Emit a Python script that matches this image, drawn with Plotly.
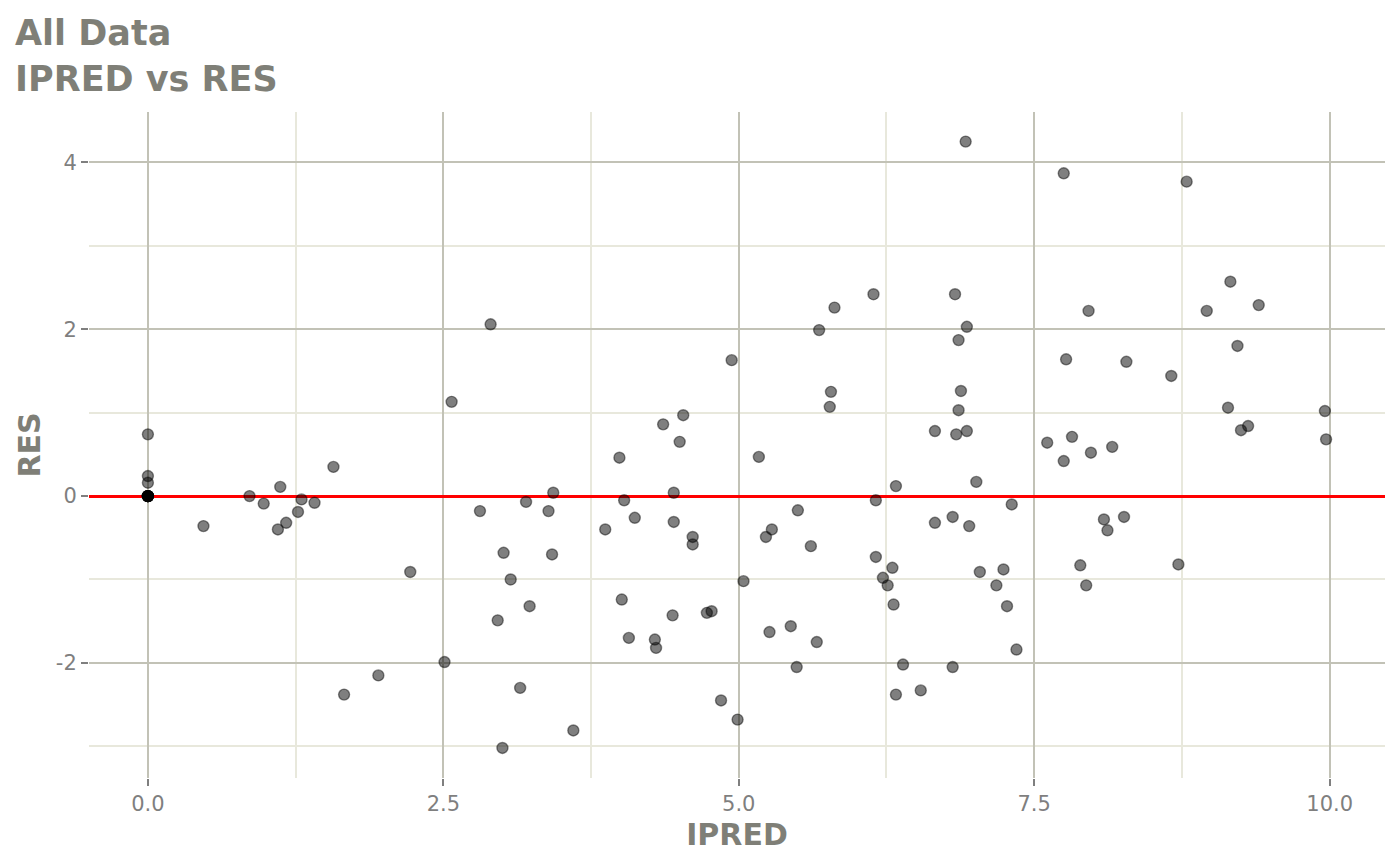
import plotly.graph_objects as go

# IPRED / RES values
ipred = [
    0, 0, 0, 0, 0, 0, 0, 0, 0, 0, 0,
    0.47, 0.86, 0.98, 1.12, 1.10, 1.17, 1.27, 1.30, 1.41, 1.57,
    1.66, 1.95, 2.22, 2.51, 2.57, 2.81, 2.90, 3.00, 3.01, 2.96,
    3.07, 3.15, 3.20, 3.23, 3.39, 3.43, 3.42, 3.60, 3.87, 3.99,
    4.03, 4.01, 4.07, 4.12, 4.29, 4.30, 4.36, 4.44, 4.45, 4.45,
    4.50, 4.53, 4.61, 4.61, 4.73, 4.77, 4.85, 4.94, 4.99, 5.04,
    5.17, 5.23, 5.26, 5.28, 5.44, 5.49, 5.50, 5.61, 5.66, 5.68,
    5.77, 5.78, 5.81, 6.14, 6.16, 6.16, 6.22, 6.26, 6.30, 6.31,
    6.33, 6.33, 6.39, 6.54, 6.66, 6.66, 6.81, 6.81, 6.83, 6.84,
    6.86, 6.86, 6.88, 6.92, 6.93, 6.93, 6.95, 7.01, 7.04, 7.18,
    7.24, 7.27, 7.31, 7.35, 7.61, 7.75, 7.75, 7.77, 7.82, 7.89,
    7.94, 7.96, 7.98, 8.09, 8.12, 8.16, 8.26, 8.28, 8.66, 8.72,
    8.79, 8.96, 9.14, 9.16, 9.22, 9.25, 9.31, 9.40, 9.96, 9.97,
]
res = [
    0.74, 0.24, 0.16, 0, 0, 0, 0, 0, 0, 0, 0,
    -0.36, 0.0, -0.09, 0.11, -0.40, -0.32, -0.19, -0.04, -0.08, 0.35,
    -2.38, -2.15, -0.91, -1.99, 1.13, -0.18, 2.06, -3.02, -0.68, -1.49,
    -1.00, -2.30, -0.07, -1.32, -0.18, 0.04, -0.70, -2.81, -0.40, 0.46,
    -0.05, -1.24, -1.70, -0.26, -1.72, -1.82, 0.86, -1.43, -0.31, 0.04,
    0.65, 0.97, -0.49, -0.58, -1.40, -1.38, -2.45, 1.63, -2.68, -1.02,
    0.47, -0.49, -1.63, -0.40, -1.56, -2.05, -0.17, -0.60, -1.75, 1.99,
    1.07, 1.25, 2.26, 2.42, -0.05, -0.73, -0.98, -1.07, -0.86, -1.30,
    0.12, -2.38, -2.02, -2.33, 0.78, -0.32, -0.25, -2.05, 2.42, 0.74,
    1.03, 1.87, 1.26, 4.25, 2.03, 0.78, -0.36, 0.17, -0.91, -1.07,
    -0.88, -1.32, -0.10, -1.84, 0.64, 3.87, 0.42, 1.64, 0.71, -0.83,
    -1.07, 2.22, 0.52, -0.28, -0.41, 0.59, -0.25, 1.61, 1.44, -0.82,
    3.77, 2.22, 1.06, 2.57, 1.80, 0.79, 0.84, 2.29, 1.02, 0.68,
]

x_ticks = [0, 2.5, 5, 7.5, 10]
x_tick_labels = ["0.0", "2.5", "5.0", "7.5", "10.0"]
y_ticks = [-2, 0, 2, 4]
y_tick_labels = ["-2", "0", "2", "4"]

text_grey = "#7f7f77"
major_grid = "#c2c2b6"
minor_grid = "#e8e8dc"

fig = go.Figure()

fig.add_trace(go.Scatter(
    x=ipred,
    y=res,
    mode="markers",
    marker=dict(size=11, color="rgba(0,0,0,0.5)",
                line=dict(color="rgba(0,0,0,0.45)", width=1.4)),
    showlegend=False,
    hoverinfo="x+y",
))

axis_common = dict(
    showline=False,
    automargin=False,
    gridcolor=major_grid,
    gridwidth=2,
    ticks="outside",
    ticklen=7,
    tickwidth=2,
    tickcolor="#7f7f7f",
    tickfont=dict(family="DejaVu Sans", size=21, color="#7f7f7f"),
)

fig.update_xaxes(
    range=[-0.4985, 10.4685],
    tickvals=x_ticks,
    ticktext=x_tick_labels,
    zeroline=False,
    minor=dict(dtick=1.25, tick0=0, showgrid=True, gridcolor=minor_grid, gridwidth=2, ticks=""),
    title=dict(text="IPRED", standoff=8,
               font=dict(family="DejaVu Sans", size=30, color=text_grey, weight="bold")),
    **axis_common,
)
# the red RES = 0 reference line is the y zero line (above grid, under points)
fig.update_yaxes(
    range=[-3.38, 4.605],
    tickvals=y_ticks,
    ticktext=y_tick_labels,
    zeroline=True,
    zerolinecolor="#ff0000",
    zerolinewidth=3,
    minor=dict(dtick=1, tick0=0, showgrid=True, gridcolor=minor_grid, gridwidth=2, ticks=""),
    title=dict(text="RES", standoff=6,
               font=dict(family="DejaVu Sans", size=30, color=text_grey, weight="bold")),
    **axis_common,
)

# page body has an 8px margin, so the figure is a bit smaller than the window
fig.update_layout(
    width=1392,
    height=858,
    plot_bgcolor="white",
    paper_bgcolor="white",
    margin=dict(l=81, r=15, t=104, b=88),
)

# two-line title, placed as an annotation for exact positioning
fig.add_annotation(
    text="<b>All Data</b><br><b>IPRED vs RES</b>",
    xref="paper", yref="paper",
    x=(5 - 81) / 1296, y=1 + (104 - 3) / 666,
    xanchor="left", yanchor="top", align="left",
    showarrow=False,
    font=dict(family="DejaVu Sans", size=35, color=text_grey),
)

fig.write_html("out.html")
